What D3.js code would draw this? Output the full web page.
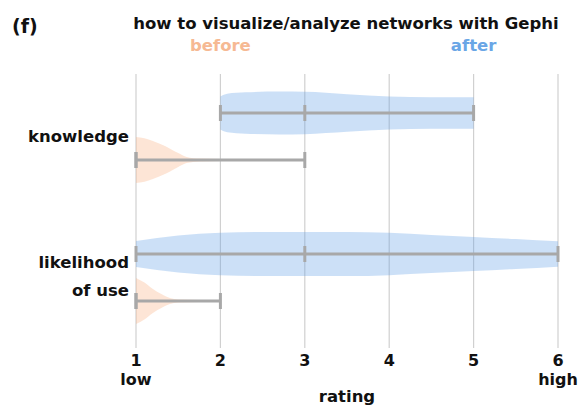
<!DOCTYPE html>
<html>
<head>
<meta charset="utf-8">
<script src="https://cdn.jsdelivr.net/npm/d3@7"></script>
<style>
  body { margin: 0; background: #fff; }
  text { font-family: "DejaVu Sans", sans-serif; font-weight: bold; }
</style>
</head>
<body>
<div id="chart"></div>
<script>
const width = 588;
const height = 410;

// categories and groups
const categories = ["knowledge", "likelihood of use"];
const groups = ["after", "before"];
const ratingTicks = [1, 2, 3, 4, 5, 6];

// violin profiles: [rating, relative density]
const knowledgeBefore = [[1, 1.0], [1.1, 0.95], [1.2, 0.83], [1.35, 0.6], [1.5, 0.3], [1.6, 0.13], [1.75, 0.06], [2, 0.04], [2.5, 0.03], [3, 0.025]];
const knowledgeAfter = [[2, 0.72], [2.08, 0.84], [2.3, 0.9], [2.7, 0.93], [3, 0.92], [3.5, 0.82], [4, 0.72], [4.5, 0.69], [5, 0.69]];
const likelihoodBefore = [[1, 1.0], [1.1, 0.8], [1.2, 0.52], [1.3, 0.3], [1.4, 0.13], [1.5, 0.06], [1.75, 0.04], [2, 0.025]];
const likelihoodAfter = [[1, 0.57], [1.5, 0.8], [2, 0.92], [2.5, 0.96], [3, 0.96], [3.5, 0.96], [4, 0.92], [4.5, 0.83], [5, 0.74], [5.5, 0.65], [6, 0.55]];

// min, median, max
const knowledgeBeforeBox = [1, 1, 3];
const knowledgeAfterBox = [2, 3, 5];
const likelihoodBeforeBox = [1, 1, 2];
const likelihoodAfterBox = [1, 3, 6];

const violins = [
  { cat: "knowledge", group: "before", density: knowledgeBefore, box: knowledgeBeforeBox },
  { cat: "knowledge", group: "after", density: knowledgeAfter, box: knowledgeAfterBox },
  { cat: "likelihood of use", group: "before", density: likelihoodBefore, box: likelihoodBeforeBox },
  { cat: "likelihood of use", group: "after", density: likelihoodAfter, box: likelihoodAfterBox }
];

const colors = {
  before: { fill: "rgba(250,170,120,0.3)", text: "#f6b993" },
  after: { fill: "rgba(100,160,230,0.33)", text: "#6aa6e6" }
};

const svg = d3.select("#chart")
  .append("svg")
  .attr("width", width)
  .attr("height", height);

const x = d3.scaleLinear().domain([1, 6]).range([136, 558]);
const y = d3.scalePoint().domain(categories).range([136.5, 277.5]);
const offset = d3.scalePoint().domain(groups).range([-23.5, 23.5]);
const w = d3.scaleLinear().domain([0, 1]).range([0, 23]);

// grid lines
svg.append("g")
  .selectAll("line")
  .data(ratingTicks)
  .enter()
  .append("line")
  .attr("x1", d => x(d)).attr("x2", d => x(d))
  .attr("y1", 74).attr("y2", 348)
  .attr("stroke", "#d0d0d0")
  .attr("stroke-width", 1.2);

// violins
const area = d3.area()
  .curve(d3.curveMonotoneX);

violins.forEach(v => {
  const cy = y(v.cat) + offset(v.group);
  area.x(d => x(d[0]))
    .y0(d => cy - w(d[1]))
    .y1(d => cy + w(d[1]));

  svg.append("path")
    .datum(v.density)
    .attr("d", area)
    .attr("fill", colors[v.group].fill);

  svg.append("line")
    .attr("x1", x(v.box[0])).attr("x2", x(v.box[2]))
    .attr("y1", cy).attr("y2", cy)
    .attr("stroke", "#a8a8a8")
    .attr("stroke-width", 3);

  svg.selectAll(null)
    .data(v.box)
    .enter()
    .append("line")
    .attr("x1", d => x(d)).attr("x2", d => x(d))
    .attr("y1", cy - 8).attr("y2", cy + 8)
    .attr("stroke", "#a8a8a8")
    .attr("stroke-width", 3);
});

// x axis labels
svg.append("g")
  .selectAll("text")
  .data(ratingTicks)
  .enter()
  .append("text")
  .attr("x", d => x(d))
  .attr("y", 366)
  .attr("text-anchor", "middle")
  .attr("font-size", "16px")
  .attr("fill", "#111")
  .text(d => d);

svg.append("text").attr("x", x(1)).attr("y", 385)
  .attr("text-anchor", "middle").attr("font-size", "16px").attr("fill", "#111").text("low");
svg.append("text").attr("x", x(6)).attr("y", 385)
  .attr("text-anchor", "middle").attr("font-size", "16px").attr("fill", "#111").text("high");
svg.append("text").attr("x", (x(1) + x(6)) / 2).attr("y", 402)
  .attr("text-anchor", "middle").attr("font-size", "16.5px").attr("fill", "#111").text("rating");

// category labels
svg.append("text").attr("x", 129).attr("y", y("knowledge") + 5)
  .attr("text-anchor", "end").attr("font-size", "16.5px").attr("fill", "#111").text("knowledge");
const lik = svg.append("text").attr("text-anchor", "end").attr("font-size", "16.5px").attr("fill", "#111");
lik.append("tspan").attr("x", 129).attr("y", y("likelihood of use") - 10).text("likelihood");
lik.append("tspan").attr("x", 129).attr("y", y("likelihood of use") + 18).text("of use");

// title and legend
svg.append("text").attr("x", 12).attr("y", 33)
  .attr("font-size", "19px").attr("fill", "#111").text("(f)");
svg.append("text").attr("x", 346).attr("y", 29)
  .attr("text-anchor", "middle").attr("font-size", "16.5px").attr("fill", "#111")
  .text("how to visualize/analyze networks with Gephi");
svg.append("text").attr("x", x(2)).attr("y", 51)
  .attr("text-anchor", "middle").attr("font-size", "16.5px").attr("fill", colors.before.text).text("before");
svg.append("text").attr("x", x(5)).attr("y", 51)
  .attr("text-anchor", "middle").attr("font-size", "16.5px").attr("fill", colors.after.text).text("after");
</script>
</body>
</html>
